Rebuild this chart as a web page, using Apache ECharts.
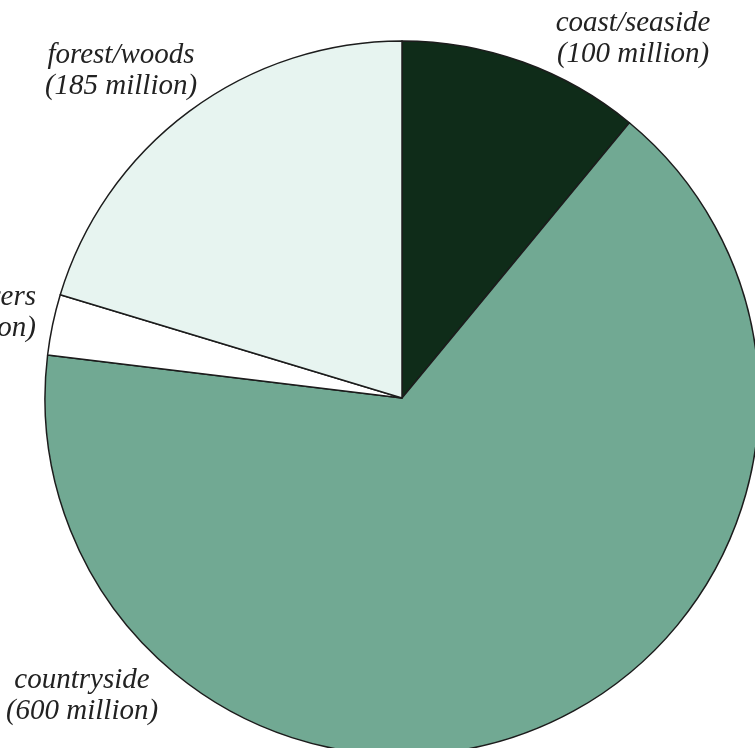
<!DOCTYPE html>
<html>
<head>
<meta charset="utf-8">
<script src="https://cdn.jsdelivr.net/npm/echarts@6/dist/echarts.min.js"></script>
<style>
  html, body { margin: 0; padding: 0; background: #fff; }
  #chart { width: 755px; height: 748px; }
</style>
</head>
<body>
<div id="chart"></div>
<script>
// slices, clockwise from 12 o'clock
const names = ['coast/seaside', 'countryside', 'lakes/rivers', 'forest/woods'];
const values = [100, 600, 25, 185];   // million
const colors = ['#0f2c19', '#71a993', '#ffffff', '#e7f4f0'];

// where each label sits (text only, not the slices)
const labelSpots = [
  { x: 633, y: 39, align: 'center' },
  { x: 82, y: 696, align: 'center' },
  { x: 36, y: 313, align: 'right' },
  { x: 121, y: 71, align: 'center' }
];

const chart = echarts.init(document.getElementById('chart'));

chart.setOption({
  animation: false,
  series: [
    {
      type: 'pie',
      center: [402, 398],
      radius: 357,
      startAngle: 90,
      clockwise: true,
      avoidLabelOverlap: false,
      data: names.map((n, i) => ({
        name: n,
        value: values[i],
        itemStyle: { color: colors[i] }
      })),
      itemStyle: { borderColor: '#1c1c1c', borderWidth: 1.5 },
      label: {
        show: true,
        position: 'outside',
        formatter: p => p.name + '\n(' + p.value + ' million)',
        fontFamily: "'Liberation Serif', serif",
        fontStyle: 'italic',
        fontSize: 29,
        lineHeight: 31,
        color: '#222'
      },
      labelLine: { show: false },
      labelLayout: params => {
        const s = labelSpots[params.dataIndex];
        return { x: s.x, y: s.y, align: s.align, verticalAlign: 'middle' };
      },
      emphasis: { disabled: true }
    }
  ]
});
</script>
</body>
</html>
